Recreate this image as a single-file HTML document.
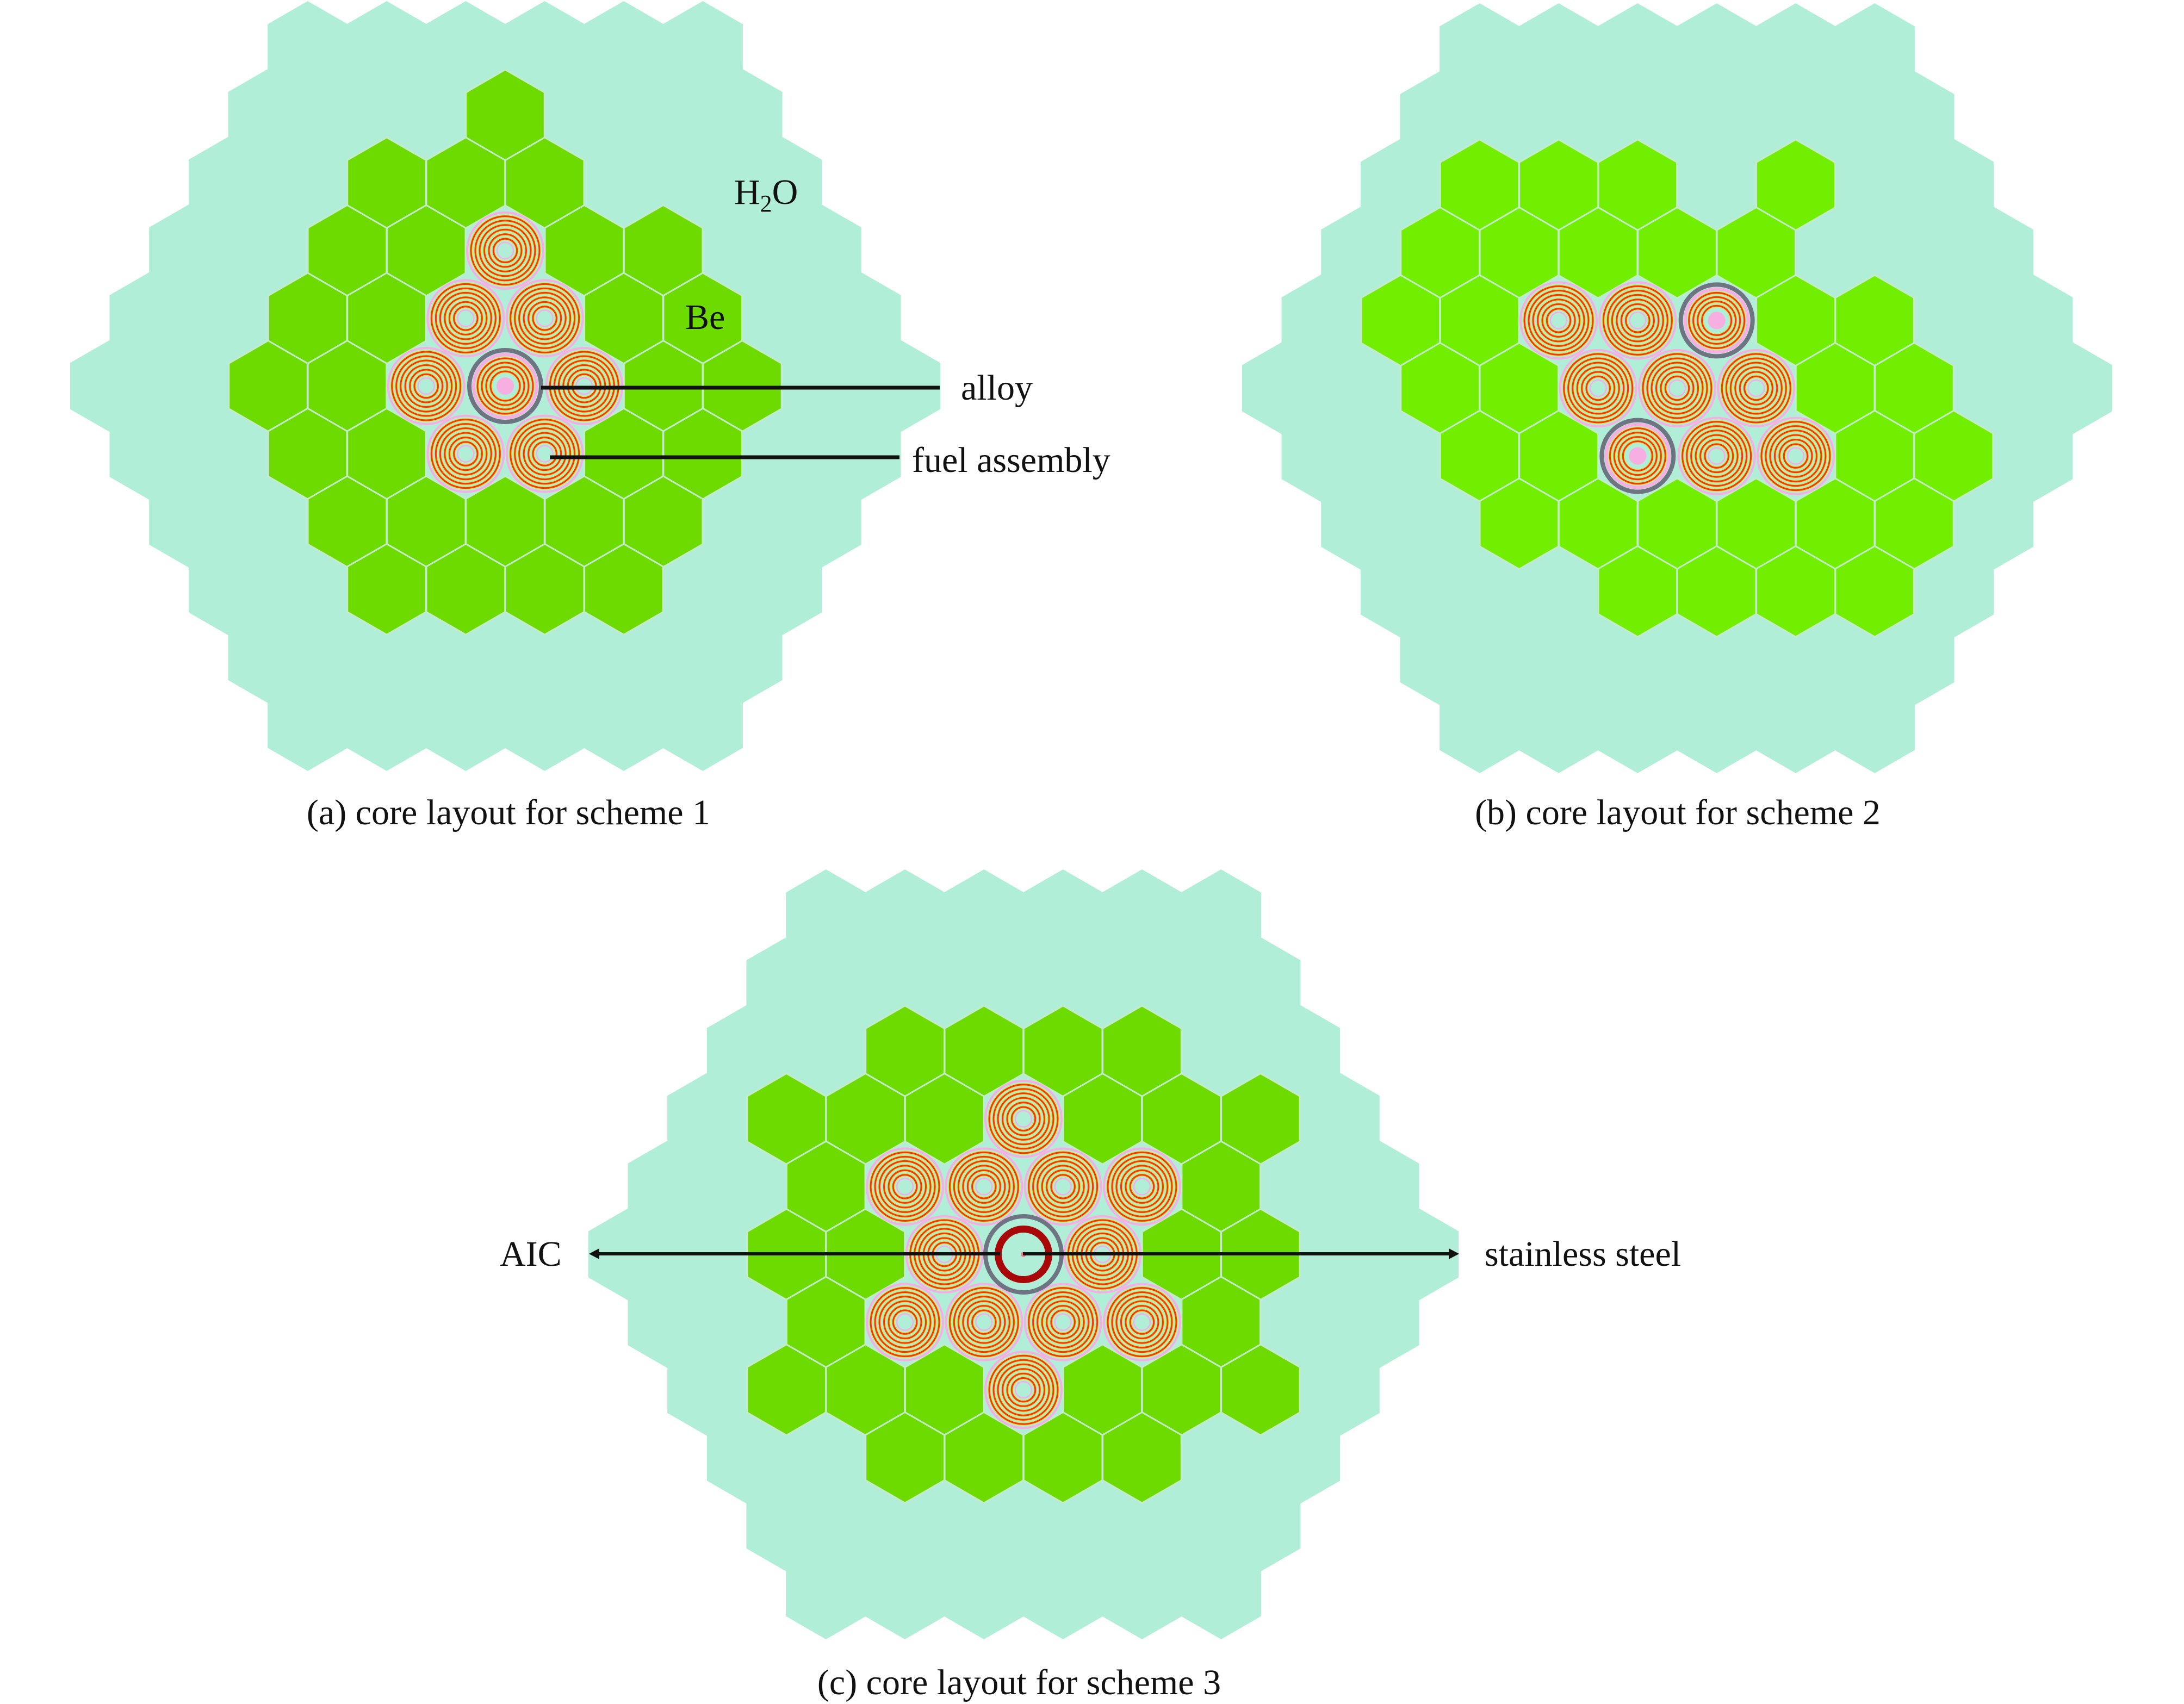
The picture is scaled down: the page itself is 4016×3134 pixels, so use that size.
<!DOCTYPE html>
<html><head><meta charset="utf-8">
<style>
html,body{margin:0;padding:0;background:#fff;}
svg{display:block;}
text{font-family:"Liberation Serif",serif;fill:#111;}
</style></head>
<body>
<svg id="s" xmlns="http://www.w3.org/2000/svg" width="4016" height="3134" viewBox="0 0 4016 3134">
<rect width="4016" height="3134" fill="#fff"/>
<g id="g"></g>
<line x1="995" y1="713" x2="1728" y2="713" stroke="#111" stroke-width="7"/>
<line x1="1011" y1="841" x2="1654" y2="841" stroke="#111" stroke-width="7"/>
<text x="1350" y="375" font-size="66">H<tspan font-size="44" dy="14">2</tspan><tspan dy="-14">O</tspan></text>
<text x="1260" y="605" font-size="66">Be</text>
<text x="1767" y="735" font-size="66">alloy</text>
<text x="1677" y="868" font-size="66">fuel assembly</text>
<text x="935" y="1516" font-size="66" text-anchor="middle">(a) core layout for scheme 1</text>
<text x="3085" y="1516" font-size="66" text-anchor="middle">(b) core layout for scheme 2</text>
<text x="1874" y="3116" font-size="66" text-anchor="middle">(c) core layout for scheme 3</text>
<line x1="1098" y1="2306" x2="1839" y2="2306" stroke="#111" stroke-width="6"/>
<line x1="1881" y1="2306" x2="2668" y2="2306" stroke="#111" stroke-width="6"/>
<polygon points="1083,2306 1102,2296 1102,2316" fill="#111"/>
<polygon points="2683,2306 2664,2296 2664,2316" fill="#111"/>
<text x="919" y="2328" font-size="66">AIC</text>
<text x="2730" y="2328" font-size="66">stainless steel</text>
</svg>
<script>
(function(){
var NS="http://www.w3.org/2000/svg";
var g=document.getElementById("g");
var W=145.3, DY=124.6, R=83.5;
function el(t,a){var e=document.createElementNS(NS,t);for(var k in a)e.setAttribute(k,a[k]);return e;}
function hexPts(cx,cy,r){var p=[];for(var i=0;i<6;i++){var an=Math.PI/180*(60*i-90);p.push((cx+r*Math.cos(an)).toFixed(1)+","+(cy+r*Math.sin(an)).toFixed(1));}return p.join(" ");}
function pos(C,row,off){return [C[0]+off*W, C[1]+row*DY];}
function water(C){
  for(var row=-5;row<=5;row++){
    var n=11-Math.abs(row);
    for(var i=0;i<n;i++){
      var off=-(n-1)/2+i;
      var p=pos(C,row,off);
      g.appendChild(el("polygon",{points:hexPts(p[0],p[1],R+1.5),fill:"#b0eed8"}));
    }
  }
}
function green(C,row,off,col){
  var p=pos(C,row,off);
  g.appendChild(el("polygon",{points:hexPts(p[0],p[1],R),fill:col,stroke:"#c4ecc8","stroke-width":3}));
}
function ring(cx,cy,r,c,w){g.appendChild(el("circle",{cx:cx,cy:cy,r:r,fill:"none",stroke:c,"stroke-width":w}));}
function fuel(C,row,off){
  var p=pos(C,row,off),x=p[0],y=p[1];
  ring(x,y,70,"#f7aee0",4);
  var rs=[21.7,30,38.5,47,55,63];
  for(var i=0;i<rs.length;i++){ring(x,y,rs[i],"#eadc30",5.5);ring(x,y,rs[i],"#f2380f",3);}
  ring(x,y,15,"#f7aee0",2.5);
}
function alloy(C,row,off){
  var p=pos(C,row,off),x=p[0],y=p[1];
  ring(x,y,58,"#f7aee0",6);
  var rs=[27,35,43,51];
  for(var i=0;i<rs.length;i++){ring(x,y,rs[i],"#eadc30",5.5);ring(x,y,rs[i],"#f2380f",3);}
  g.appendChild(el("circle",{cx:x,cy:y,r:16,fill:"#f7aee0"}));
  ring(x,y,66,"#6e7482",8);
}
var A=[929,710], GA="#6ddb00";
water(A);
var ga=[[-4,[0]],[-3,[-1.5,-0.5,0.5]],[-2,[-2,-1,1,2]],[-1,[-2.5,-1.5,1.5,2.5]],[0,[-3,-2,2,3]],[1,[-2.5,-1.5,1.5,2.5]],[2,[-2,-1,0,1,2]],[3,[-1.5,-0.5,0.5,1.5]]];
ga.forEach(function(r){r[1].forEach(function(o){green(A,r[0],o,GA);});});
[[-2,0],[-1,-0.5],[-1,0.5],[0,-1],[0,1],[1,-0.5],[1,0.5]].forEach(function(f){fuel(A,f[0],f[1]);});
alloy(A,0,0);
var B=[3084,714], GB="#72ee00";
water(B);
var gb=[[-3,[-2.5,-1.5,-0.5,1.5]],[-2,[-3,-2,-1,0,1]],[-1,[-3.5,-2.5,1.5,2.5]],[0,[-3,-2,2,3]],[1,[-2.5,-1.5,2.5,3.5]],[2,[-2,-1,0,1,2,3]],[3,[-0.5,0.5,1.5,2.5]]];
gb.forEach(function(r){r[1].forEach(function(o){green(B,r[0],o,GB);});});
[[-1,-1.5],[-1,-0.5],[0,-1],[0,0],[0,1],[1,0.5],[1,1.5]].forEach(function(f){fuel(B,f[0],f[1]);});
alloy(B,-1,0.5); alloy(B,1,-0.5);
var Cc=[1882,2307], GC="#6ddb00";
water(Cc);
var gc=[[-3,[-1.5,-0.5,0.5,1.5]],[-2,[-3,-2,-1,1,2,3]],[-1,[-2.5,2.5]],[0,[-3,-2,2,3]],[1,[-2.5,2.5]],[2,[-3,-2,-1,1,2,3]],[3,[-1.5,-0.5,0.5,1.5]]];
gc.forEach(function(r){r[1].forEach(function(o){green(Cc,r[0],o,GC);});});
[[-2,0],[-1,-1.5],[-1,-0.5],[-1,0.5],[-1,1.5],[0,-1],[0,1],[1,-1.5],[1,-0.5],[1,0.5],[1,1.5],[2,0]].forEach(function(f){fuel(Cc,f[0],f[1]);});
ring(Cc[0],Cc[1],46.5,"#a80808",13);
ring(Cc[0],Cc[1],70,"#6e7482",8);
g.appendChild(el("circle",{cx:Cc[0],cy:Cc[1],r:5,fill:"#f08090"}));
})();
</script>
</body></html>
